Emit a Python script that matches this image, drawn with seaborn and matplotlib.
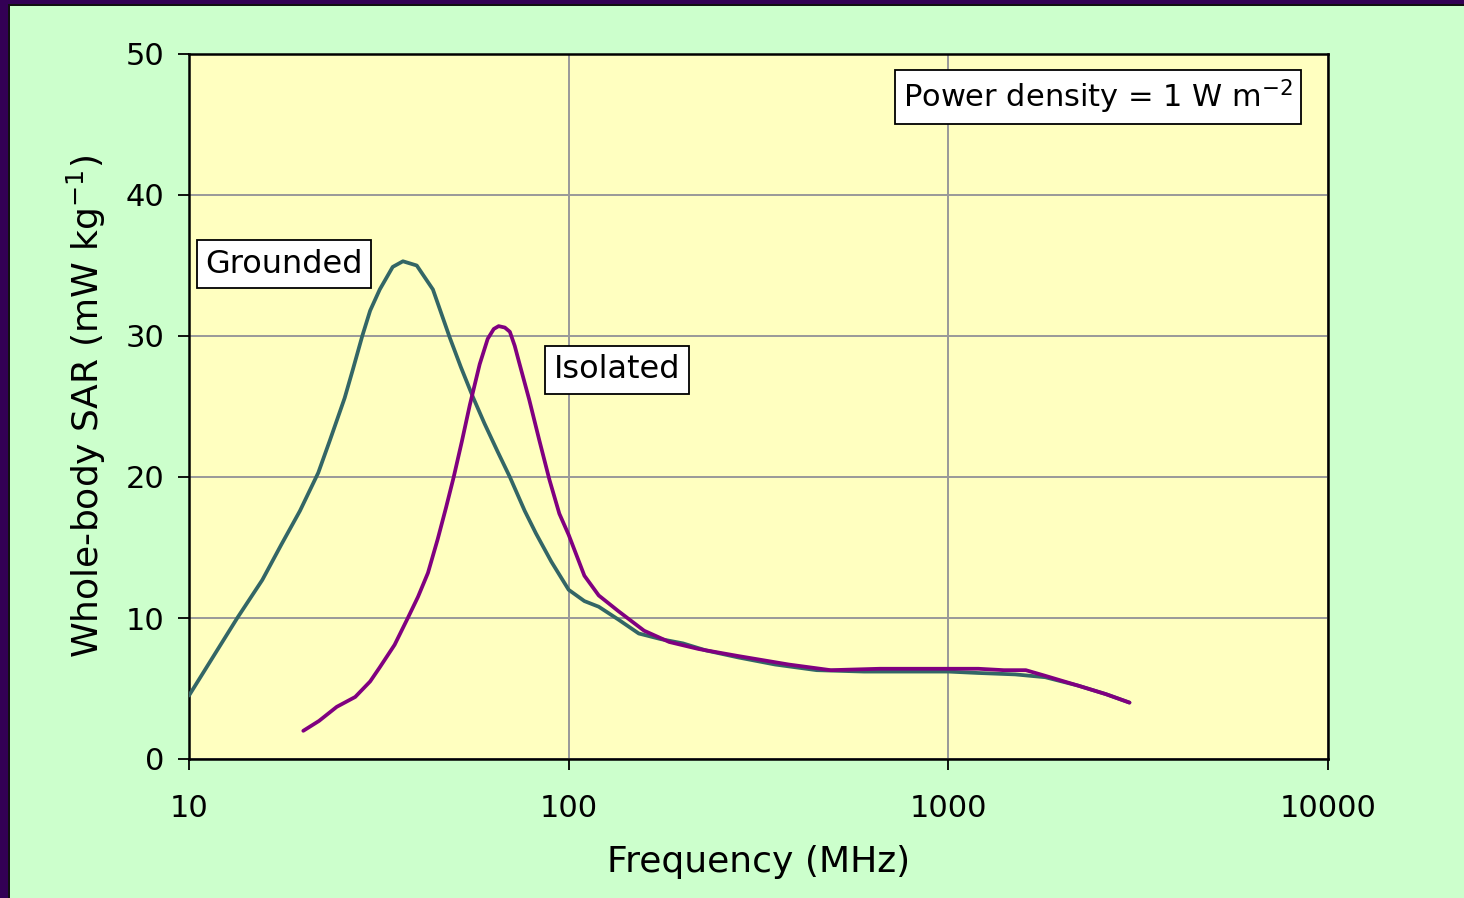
import matplotlib
matplotlib.use("Agg")
import matplotlib.pyplot as plt
from matplotlib.patches import Rectangle
import pandas as pd
import seaborn as sns

# Whole-body SAR versus frequency for an incident power density of 1 W m^-2
grounded_freq = [10, 13.4, 15.6, 17.5, 19.6, 21.9, 23.5, 25.7, 27, 28.6, 30, 31.8,
                 34.4, 36.6, 39.8, 43.9, 48.6, 52, 55.9, 60, 65, 70, 76.6, 82, 90,
                 100, 110, 120, 135, 153, 175, 200, 230, 280, 350, 450, 600, 800,
                 1000, 1200, 1500, 1800, 2200, 2600, 3000]
grounded_sar = [4.5, 10.0, 12.7, 15.2, 17.6, 20.3, 22.6, 25.6, 27.6, 30.0, 31.8,
                33.3, 34.9, 35.3, 35.0, 33.3, 29.9, 27.8, 25.7, 23.8, 21.8, 20.0,
                17.6, 16.0, 14.0, 12.0, 11.2, 10.8, 9.9, 8.9, 8.5, 8.2, 7.7, 7.2,
                6.7, 6.3, 6.2, 6.2, 6.2, 6.1, 6.0, 5.8, 5.2, 4.6, 4.0]

isolated_freq = [20, 22, 24.5, 27.4, 30, 31.8, 34.8, 37.7, 40.1, 42.6, 45.2, 47.5,
                 49.8, 52.3, 54.9, 58.3, 61.2, 63.5, 65.4, 67.9, 70, 72.1, 74.1,
                 78.7, 83.7, 89, 94.5, 100, 110, 120, 135, 158, 184, 220, 280,
                 380, 490, 660, 800, 1000, 1200, 1400, 1600, 1800, 2200, 2600, 3000]
isolated_sar = [2.0, 2.7, 3.7, 4.4, 5.5, 6.5, 8.1, 10.0, 11.5, 13.2, 15.6, 17.8,
                20.0, 22.5, 25.1, 28.0, 29.8, 30.5, 30.7, 30.6, 30.3, 29.3, 28.1,
                25.5, 22.6, 19.8, 17.4, 15.9, 13.0, 11.6, 10.5, 9.1, 8.3, 7.8, 7.3,
                6.7, 6.3, 6.4, 6.4, 6.4, 6.4, 6.3, 6.3, 5.9, 5.2, 4.6, 4.0]

series_names = ["Grounded", "Isolated"]
series_colors = ["#336666", "#800080"]
x_ticks = [10, 100, 1000, 10000]
x_tick_labels = ["10", "100", "1000", "10000"]
y_ticks = [0, 10, 20, 30, 40, 50]

df = pd.concat([
    pd.DataFrame({"freq": grounded_freq, "sar": grounded_sar, "condition": series_names[0]}),
    pd.DataFrame({"freq": isolated_freq, "sar": isolated_sar, "condition": series_names[1]}),
], ignore_index=True)

sns.set_style("white")
plt.rcParams["font.family"] = ["DejaVu Sans"]
plt.rcParams["mathtext.fontset"] = "dejavusans"
plt.rcParams["text.color"] = "black"
plt.rcParams["axes.labelcolor"] = "black"

fig = plt.figure(figsize=(14.64, 8.98), dpi=100, facecolor="#CCFFCC")

# frame strips along the top and left edges
fig.patches.append(Rectangle((0, 1 - 4 / 898), 1, 4 / 898, transform=fig.transFigure,
                             facecolor="#330055", edgecolor="none", zorder=0))
fig.patches.append(Rectangle((0, 1 - 6 / 898), 1, 2 / 898, transform=fig.transFigure,
                             facecolor="#111111", edgecolor="none", zorder=0))
fig.patches.append(Rectangle((0, 0), 8 / 1464, 1, transform=fig.transFigure,
                             facecolor="#330055", edgecolor="none", zorder=0))
fig.patches.append(Rectangle((8 / 1464, 0), 2 / 1464, 1 - 4 / 898, transform=fig.transFigure,
                             facecolor="#111111", edgecolor="none", zorder=0))

ax = fig.add_axes([189 / 1464, 1 - 759 / 898, 1139 / 1464, 705 / 898])
ax.set_facecolor("#FFFFC0")

sns.lineplot(data=df, x="freq", y="sar", hue="condition", hue_order=series_names,
             palette=series_colors, linewidth=2.7, legend=False, ax=ax, zorder=3)
for line in ax.get_lines():
    line.set_solid_joinstyle("round")
    line.set_solid_capstyle("round")

ax.set_xscale("log")
ax.set_xlim(10, 10000)
ax.set_ylim(0, 50)
ax.set_xticks(x_ticks)
ax.set_xticklabels(x_tick_labels)
ax.xaxis.set_minor_locator(matplotlib.ticker.NullLocator())
ax.set_yticks(y_ticks)

ax.grid(True, color="#999999", linewidth=1.4, zorder=1)
ax.set_axisbelow(True)
for side in ["left", "right", "top", "bottom"]:
    ax.spines[side].set_visible(True)
    ax.spines[side].set_color("black")
    ax.spines[side].set_linewidth(1.8)

ax.tick_params(axis="both", which="major", direction="out", length=8, width=1.3,
               color="black", labelsize=22, labelcolor="black")
ax.tick_params(axis="x", pad=17, bottom=True)
ax.tick_params(axis="y", pad=10, left=True)

ax.set_xlabel("Frequency (MHz)", fontsize=26, labelpad=16, color="black")
ax.set_ylabel("Whole-body SAR (mW kg$^{-1}$)", fontsize=26, labelpad=12, color="black")

box = dict(boxstyle="square,pad=0.26", facecolor="white", edgecolor="black", linewidth=1.3)
ax.text(0.0834, 0.702, "Grounded", transform=ax.transAxes, ha="center", va="center",
        fontsize=23, bbox=box, zorder=5)
ax.text(0.3758, 0.5518, "Isolated", transform=ax.transAxes, ha="center", va="center",
        fontsize=23, bbox=box, zorder=5)
ax.text(0.798, 0.939, "Power density = 1 W m$^{-2}$", transform=ax.transAxes,
        ha="center", va="center", fontsize=22, bbox=box, zorder=5)

fig.savefig("out.png", dpi=100, facecolor=fig.get_facecolor())
